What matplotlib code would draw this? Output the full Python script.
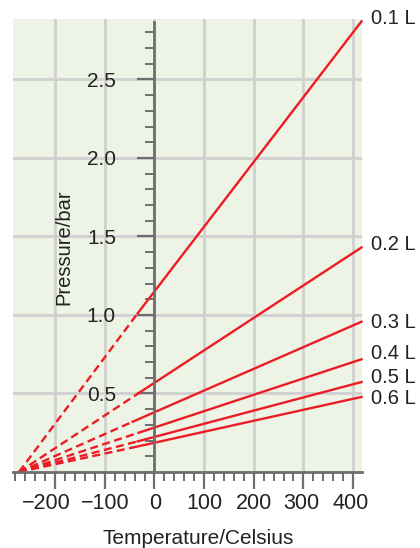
import matplotlib
matplotlib.use('Agg')
import matplotlib.pyplot as plt
from matplotlib.ticker import MultipleLocator

plt.rcParams['font.family'] = ['Liberation Sans', 'DejaVu Sans']

# data
volumes = ['0.1 L', '0.2 L', '0.3 L', '0.4 L', '0.5 L', '0.6 L']
t_zero = -273                      # absolute zero, where all lines meet
t_start = [-34, -33, -44, -32, -34, -45]   # start of solid part
p_start = [1.01, 0.50, 0.32, 0.25, 0.195, 0.155]
t_end = 417
p_end = [2.87, 1.43, 0.957, 0.718, 0.573, 0.478]
label_y = [2.885, 1.446, 0.949, 0.752, 0.599, 0.465]

x_ticks = [-200, -100, 0, 100, 200, 300, 400]
y_ticks = [0.5, 1.0, 1.5, 2.0, 2.5]
# small horizontal nudges of the x tick labels (points)
x_nudge = [-6.5, 0, 0.5, 0, 0, -1.8, -1.4]

red = '#ec1c24'
axcol = '#6e6e6e'
txtcol = '#222222'

fig = plt.figure(figsize=(4.2, 5.48), dpi=100)
ax = fig.add_axes([13/420, 1 - 472/548, 349/420, 453/548])
ax.set_facecolor('#edf4e5')

for i, v in enumerate(volumes):
    ax.plot([t_zero, t_start[i]], [0, p_start[i]], color=red, lw=1.7,
            dashes=(3.4, 1.9), solid_capstyle='butt', clip_on=False)
    ax.plot([t_start[i], t_end], [p_start[i], p_end[i]], color=red, lw=1.7,
            clip_on=False)
    ax.annotate(v, xy=(t_end, label_y[i]), xytext=(7, 0),
                textcoords='offset points', va='center', ha='left',
                fontsize=14.5, color=txtcol, annotation_clip=False)

ax.set_xlim(-285, 418)
ax.set_ylim(0, 2.885)

ax.spines['top'].set_visible(False)
ax.spines['right'].set_visible(False)
ax.spines['left'].set_position(('data', 0))
ax.spines['left'].set_bounds(0, 2.865)
for s in ['left', 'bottom']:
    ax.spines[s].set_color(axcol)
    ax.spines[s].set_linewidth(2)
    ax.spines[s].set_zorder(3)

ax.xaxis.set_minor_locator(MultipleLocator(20))
ax.yaxis.set_minor_locator(MultipleLocator(0.1))
ax.set_xticks(x_ticks)
ax.set_xticklabels([])
ax.set_yticks(y_ticks)
ax.set_yticklabels(['%.1f' % t for t in y_ticks])

# x tick labels drawn by hand so each can be nudged like the original
for t, dx in zip(x_ticks, x_nudge):
    s = ('\u2212%d' % -t) if t < 0 else '%d' % t
    ax.annotate(s, xy=(t, 0), xycoords=('data', 'axes fraction'),
                xytext=(dx, -22.5), textcoords='offset points',
                ha='center', va='center', fontsize=15.5, color=txtcol,
                annotation_clip=False)

ax.tick_params(which='major', length=12.3, width=1.6, color=axcol,
               labelcolor=txtcol)
ax.tick_params(axis='y', which='major', labelsize=15, pad=15.5)
ax.tick_params(which='minor', length=6.5, width=1.4, color=axcol)

ax.grid(True, which='major', color='#d0d0d0', lw=2)
ax.set_axisbelow(True)

ax.set_xlabel('Temperature/Celsius', fontsize=15, color=txtcol)
ax.xaxis.set_label_coords(0.531, -0.159)
ax.xaxis.label.set_va('baseline')
ax.set_ylabel('Pressure/bar', fontsize=14.5, color=txtcol)
ax.yaxis.set_label_coords(0.174, 0.497)

fig.savefig('out.png', dpi=100)
